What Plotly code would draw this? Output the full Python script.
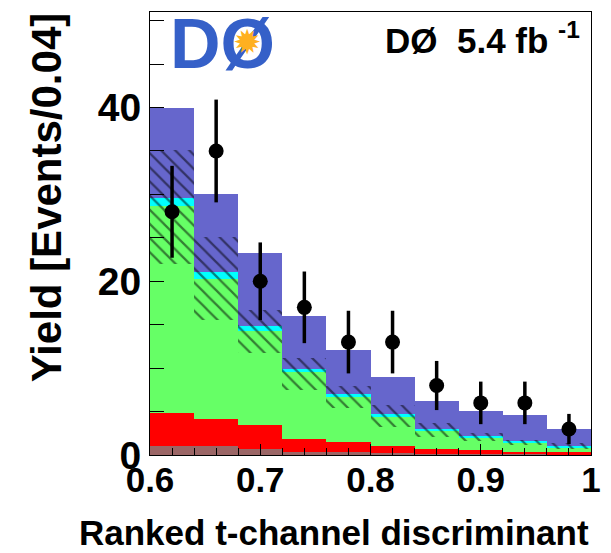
import numpy as np
import plotly.graph_objects as go

# ---- data ----
bin_edges = [0.60, 0.64, 0.68, 0.72, 0.76, 0.80, 0.84, 0.88, 0.92, 0.96, 1.00]
other     = [1.0, 1.0, 0.7, 0.4, 0.3, 0.2, 0.15, 0.1, 0.1, 0.1]      # brown
ttbar     = [3.8, 3.2, 2.7, 1.45, 1.2, 0.8, 0.5, 0.5, 0.3, 0.2]      # red
wjets     = [23.9, 16.1, 10.9, 7.75, 5.2, 3.4, 2.15, 1.4, 1.05, 0.55]  # green
tb        = [0.9, 0.8, 0.5, 0.3, 0.3, 0.3, 0.2, 0.2, 0.15, 0.15]     # cyan
tqb       = [10.4, 9.0, 8.4, 6.1, 5.1, 4.3, 3.2, 2.9, 3.0, 2.0]      # blue (signal)
unc_low   = [22.0, 15.5, 11.7, 7.5, 5.4, 3.25, 2.1, 1.6, 1.2, 0.7]
unc_high  = [35.1, 25.1, 16.7, 11.2, 7.9, 5.75, 3.7, 2.5, 1.75, 1.4]
data      = [28, 35, 20, 17, 13, 13, 8, 6, 6, 3]

edges = np.array(bin_edges)
centers = 0.5 * (edges[:-1] + edges[1:])
width = edges[1] - edges[0]

layers = [
    ("Other", other, "#9b6666"),
    ("tt̄", ttbar, "#ff0000"),
    ("W+jets", wjets, "#66ff66"),
    ("tb", tb, "#00ffff"),
    ("tqb", tqb, "#6666cc"),
]

fig = go.Figure()
base = np.zeros(len(centers))
for name, vals, col in layers:
    v = np.array(vals)
    fig.add_trace(go.Bar(x=centers, y=v, base=base.copy(), width=width,
                         marker=dict(color=col, line=dict(width=0)),
                         name=name, showlegend=False))
    base = base + v

lo = np.array(unc_low)
hi = np.array(unc_high)
fig.add_trace(go.Bar(x=centers, y=hi - lo, base=lo, width=width,
                     marker=dict(color="rgba(0,0,0,0)", line=dict(width=0),
                                 pattern=dict(shape="\\", fgcolor="black",
                                              bgcolor="rgba(0,0,0,0)",
                                              size=10, solidity=0.22)),
                     showlegend=False))

d = np.array(data, dtype=float)
fig.add_trace(go.Scatter(x=centers, y=d, mode="markers",
                         marker=dict(color="black", size=15),
                         error_y=dict(type="data", array=np.sqrt(d), width=0,
                                      thickness=3.5, color="black"),
                         showlegend=False))

reg = "Liberation Sans, Arial"

fig.update_layout(
    width=611, height=553,
    margin=dict(l=150, r=10, t=12, b=98),
    barmode="overlay", bargap=0,
    plot_bgcolor="white", paper_bgcolor="white",
    xaxis=dict(range=[0.6, 1.0], dtick=0.1, tick0=0.6, ticks="inside",
               ticklen=11, tickcolor="black", showgrid=False, zeroline=False,
               showline=True, linecolor="black", linewidth=1, mirror=True,
               ticklabelstandoff=-6,
               tickfont=dict(family=reg, size=35, color="black", weight="bold"),
               minor=dict(dtick=0.02, ticks="inside", ticklen=7, tickcolor="black")),
    yaxis=dict(range=[0, 51], dtick=20, tick0=0, ticks="inside",
               ticklen=14, tickcolor="black", showgrid=False, zeroline=False,
               showline=True, linecolor="black", linewidth=1, mirror=True,
               tickfont=dict(family=reg, size=39, color="black", weight="bold"),
               minor=dict(dtick=5, ticks="inside", ticklen=14, tickcolor="black")),
)

fig.add_annotation(text="Ranked t-channel discriminant", xref="paper", yref="paper",
                   x=1.0, y=-0.176, xanchor="right", yanchor="middle", showarrow=False,
                   font=dict(family=reg, size=35, color="black", weight="bold"))
fig.add_annotation(text="Yield [Events/0.04]", xref="paper", yref="paper",
                   x=(44 - 150) / 451, y=(455 - 197) / 443, xanchor="center",
                   yanchor="middle", textangle=-90, showarrow=False,
                   font=dict(family=reg, size=42, color="black", weight="bold"))
fig.add_annotation(text="DØ  5.4 fb <sup>-1</sup>", xref="paper", yref="paper",
                   x=(592 - 150) / 451, y=(455 - 38) / 443, xanchor="right",
                   yanchor="middle", showarrow=False,
                   font=dict(family=reg, size=35, color="black", weight="bold"))
# DØ logo approximation
fig.add_annotation(text="DØ", xref="paper", yref="paper",
                   x=(224 - 150) / 451, y=(455 - 44) / 443, xanchor="center",
                   yanchor="middle", showarrow=False,
                   font=dict(family=reg, size=70, color="#3560c8", weight="bold"))
fig.add_annotation(text="✹", xref="paper", yref="paper",
                   x=(250 - 150) / 451, y=(455 - 42) / 443, xanchor="center",
                   yanchor="middle", showarrow=False,
                   font=dict(family="DejaVu Sans", size=34, color="#ffb020"))

fig.write_html("out.html")
